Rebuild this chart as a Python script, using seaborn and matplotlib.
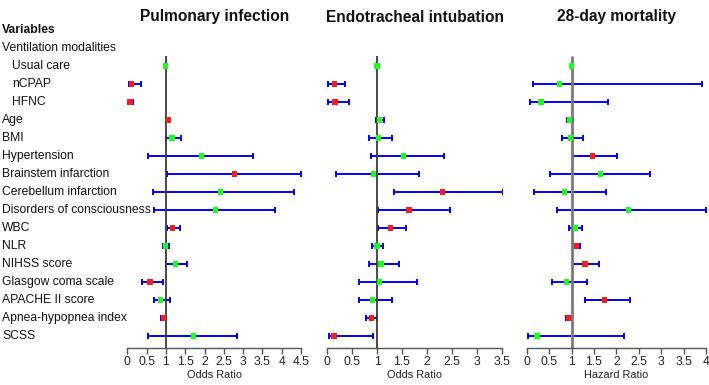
import matplotlib
matplotlib.use("Agg")
import matplotlib.pyplot as plt
import matplotlib.transforms as mtransforms
from matplotlib import font_manager
import seaborn as sns
import numpy as np
import pandas as pd

# ---------------- data ----------------
labels = ["Variables", "Ventilation modalities", "Usual care", "nCPAP", "HFNC", "Age", "BMI",
          "Hypertension", "Brainstem infarction", "Cerebellum infarction",
          "Disorders of consciousness", "WBC", "NLR", "NIHSS score", "Glasgow coma scale",
          "APACHE II score", "Apnea-hypopnea index", "SCSS"]
indented = ["Usual care", "nCPAP", "HFNC"]
variables = labels[2:]

panel_titles = ["Pulmonary infection", "Endotracheal intubation", "28-day mortality"]
panel_xlabels = ["Odds Ratio", "Odds Ratio", "Hazard Ratio"]
panel_xmax = [4.5, 3.5, 4.0]

pulm_est = [1.00, 0.10, 0.07, 1.07, 1.16, 1.92, 2.77, 2.41, 2.28, 1.17, 1.00, 1.24, 0.59, 0.86, 0.93, 1.71]
pulm_lo  = [1.00, 0.04, 0.01, 1.04, 0.99, 0.54, 1.02, 0.67, 0.70, 1.02, 0.93, 1.00, 0.37, 0.68, 0.88, 0.53]
pulm_hi  = [1.00, 0.35, 0.15, 1.10, 1.39, 3.25, 4.50, 4.31, 3.83, 1.36, 1.08, 1.54, 0.93, 1.10, 0.97, 2.83]

endo_est = [1.00, 0.15, 0.16, 1.05, 1.03, 1.53, 0.93, 2.31, 1.64, 1.27, 1.00, 1.08, 1.05, 0.91, 0.89, 0.14]
endo_lo  = [1.00, 0.01, 0.01, 0.98, 0.83, 0.87, 0.18, 1.33, 1.01, 1.02, 0.90, 0.83, 0.63, 0.64, 0.78, 0.03]
endo_hi  = [1.00, 0.36, 0.43, 1.13, 1.29, 2.34, 1.83, 3.51, 2.45, 1.57, 1.11, 1.43, 1.79, 1.29, 0.99, 0.91]

mort_est = [1.00, 0.74, 0.32, 0.96, 0.98, 1.46, 1.64, 0.84, 2.27, 1.08, 1.11, 1.30, 0.88, 1.73, 0.93, 0.23]
mort_lo  = [1.00, 0.14, 0.07, 0.89, 0.79, 1.04, 0.52, 0.16, 0.68, 0.94, 1.04, 1.04, 0.57, 1.31, 0.88, 0.02]
mort_hi  = [1.00, 3.91, 1.81, 1.04, 1.25, 2.02, 2.74, 1.76, 4.00, 1.24, 1.20, 1.62, 1.35, 2.31, 0.98, 2.18]

panels = [(pulm_est, pulm_lo, pulm_hi), (endo_est, endo_lo, endo_hi), (mort_est, mort_lo, mort_hi)]

# ---------------- style ----------------
sns.set_theme(style="white")


def has_font(name):
    try:
        font_manager.findfont(font_manager.FontProperties(family=name), fallback_to_default=False)
        return True
    except Exception:
        return False


narrow = has_font("Liberation Sans Narrow")
FONT = (["Liberation Sans Narrow"] if narrow else []) + ["Liberation Sans", "DejaVu Sans"]
plt.rcParams["font.family"] = FONT
scale = 1.0 if narrow else 0.83

W, H = 709, 385
fig = plt.figure(figsize=(W / 100, H / 100), dpi=100)

# pixel layout of the three panels (x-range in px)
panel_px = [(127.3, 301.0), (327.0, 502.0), (526.7, 706.0)]
ref_color = ["#3a3a3a", "#3a3a3a", "#7a7a7a"]
ref_lw = [1.3, 1.3, 2.0]
top_px, bot_px = 20, 348
row0_px, row_step = 30.0, 18.0
y_bottom = (bot_px - row0_px) / row_step
y_top = (top_px - row0_px) / row_step

axes = []
for k, (x0, x1) in enumerate(panel_px):
    ax = fig.add_axes([x0 / W, 1 - bot_px / H, (x1 - x0) / W, (bot_px - top_px) / H])
    est, lo, hi = panels[k]
    pos = np.arange(2, 2 + len(variables))
    df = pd.DataFrame({"var": variables, "est": est, "lo": lo, "hi": hi, "pos": pos})
    df["sig"] = np.where((df["lo"] > 1) | (df["hi"] < 1), "sig", "ns")

    ax.set_xlim(0, panel_xmax[k])
    ax.set_ylim(y_bottom, y_top)

    has_ci = df["hi"] > df["lo"]
    d = df[has_ci]
    ax.errorbar(d["est"], d["pos"], xerr=[d["est"] - d["lo"], d["hi"] - d["est"]],
                fmt="none", ecolor="#0000ff", elinewidth=1.4, capsize=2.5,
                capthick=1.4, zorder=2)
    ax.vlines(1, 1.45, y_bottom, color=ref_color[k], lw=ref_lw[k], zorder=3)
    sns.scatterplot(data=df, x="est", y="pos", hue="sig",
                    palette={"sig": "#ff1a1a", "ns": "#1aff1a"}, marker="s", s=14,
                    linewidth=0, legend=False, ax=ax, zorder=4)

    for s in ["top", "right", "left"]:
        ax.spines[s].set_visible(False)
    ax.spines["bottom"].set_color("#555555")
    ax.spines["bottom"].set_linewidth(1.0)
    ax.set_yticks([])
    ax.set_ylabel("")
    ticks = np.arange(0, panel_xmax[k] + 0.01, 0.5)
    ax.set_xticks(ticks)
    ax.set_xticklabels([f"{v:g}" for v in ticks])
    ax.tick_params(axis="x", bottom=True, length=4, width=1, color="#555555",
                   labelsize=10.5 * scale, pad=2, labelcolor="#222222")
    ax.set_xlabel(panel_xlabels[k], fontsize=9.5 * scale, labelpad=1, color="#222222")
    ax.patch.set_alpha(0)
    fig.text((x0 + x1) / 2 / W, 1 - 17 / H, panel_titles[k], ha="center", va="center",
             fontsize=13.5 * scale, fontweight="bold", color="#111111")
    axes.append(ax)

# row labels on the left
trans = mtransforms.blended_transform_factory(fig.transFigure, axes[0].transData)
for i, lab in enumerate(labels):
    xpx = 12 if lab in indented else 2
    axes[0].text(xpx / W, i, lab, transform=trans, ha="left", va="center",
                 fontsize=10.5 * scale, color="#111111",
                 fontweight="bold" if i == 0 else "normal", clip_on=False)

fig.savefig("out.png", dpi=100)
